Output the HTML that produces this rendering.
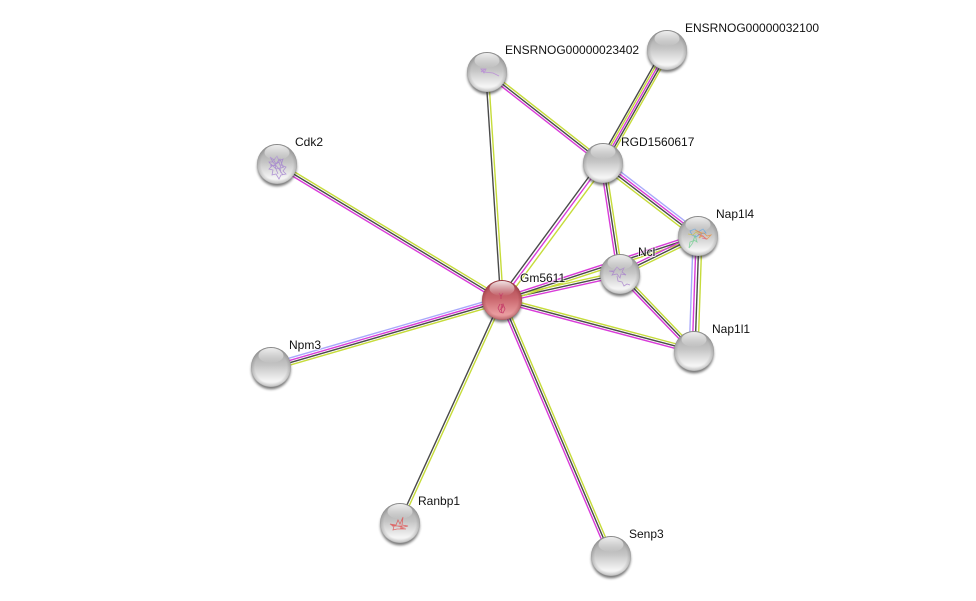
<!DOCTYPE html>
<html>
<head>
<meta charset="utf-8">
<title>Network</title>
<style>
html,body{margin:0;padding:0;background:#fff;width:976px;height:601px;overflow:hidden}
svg{display:block}
line{stroke-width:1.4;fill:none}
.k{stroke:#4a4a4a}.m{stroke:#d93bd9}.y{stroke:#c6dc3a}.b{stroke:#a9a9fb}
text{font-family:"Liberation Sans",Arial,sans-serif;font-size:12px;fill:#111;paint-order:stroke;stroke:rgba(255,255,255,.6);stroke-width:2px}
.s{fill:none;stroke-width:.8;opacity:.8}
</style>
</head>
<body>
<svg width="976" height="601" viewBox="0 0 976 601" xmlns="http://www.w3.org/2000/svg">
<defs>
<linearGradient id="gb" x1="0" y1="0" x2="0" y2="1">
<stop offset="0" stop-color="#a0a0a0"/><stop offset=".45" stop-color="#c4c4c4"/><stop offset=".85" stop-color="#f5f5f5"/><stop offset="1" stop-color="#e4e4e4"/>
</linearGradient>
<linearGradient id="rb" x1="0" y1="0" x2="0" y2="1">
<stop offset="0" stop-color="#a8474f"/><stop offset=".45" stop-color="#c9656c"/><stop offset=".85" stop-color="#e99c9f"/><stop offset="1" stop-color="#d98a8e"/>
</linearGradient>
<radialGradient id="ge" cx=".5" cy=".5" r=".5">
<stop offset="0" stop-color="#555" stop-opacity="0"/><stop offset=".8" stop-color="#555" stop-opacity="0"/><stop offset=".96" stop-color="#555" stop-opacity=".22"/><stop offset="1" stop-color="#444" stop-opacity=".42"/>
</radialGradient>
<radialGradient id="re" cx=".5" cy=".5" r=".5">
<stop offset="0" stop-color="#701820" stop-opacity="0"/><stop offset=".8" stop-color="#701820" stop-opacity="0"/><stop offset=".96" stop-color="#701820" stop-opacity=".25"/><stop offset="1" stop-color="#701820" stop-opacity=".5"/>
</radialGradient>
<linearGradient id="gl" x1="0" y1="0" x2="0" y2="1">
<stop offset="0" stop-color="#fff" stop-opacity=".85"/><stop offset="1" stop-color="#fff" stop-opacity="0"/>
</linearGradient>
<filter id="bl" x="-30%" y="-30%" width="160%" height="160%"><feGaussianBlur stdDeviation="1.3"/></filter>
<g id="sh"><circle cx="0" cy="2.6" r="19.8" fill="#2a2a2a" opacity=".62" filter="url(#bl)"/></g>
<g id="base"><circle r="20" fill="url(#gb)"/><circle r="20" fill="url(#ge)"/></g>
<g id="gloss"><ellipse cx="0" cy="-11.5" rx="12.5" ry="7.5" fill="url(#gl)"/></g>
</defs>

<!-- edges -->
<g transform="translate(277 164) rotate(31.15)"><line x2="263" y1="-2.3" y2="-2.3" class="y"/><line x2="263" class="k"/><line x2="263" y1="2.3" y2="2.3" class="m"/></g>
<g transform="translate(271 367) rotate(-16.17)"><line x2="240" y1="-3.4" y2="-3.4" class="b"/><line x2="240" y1="-1.1" y2="-1.1" class="m"/><line x2="240" y1="1.1" y2="1.1" class="k"/><line x2="240" y1="3.4" y2="3.4" class="y"/></g>
<g transform="translate(400 523) rotate(-65.42)"><line x2="245" y1="-1.2" y2="-1.2" class="k"/><line x2="245" y1="1.2" y2="1.2" class="y"/></g>
<g transform="translate(502 300) rotate(66.94)"><line x2="278" y1="2.3" y2="2.3" class="m"/><line x2="278" class="k"/><line x2="278" y1="-2.3" y2="-2.3" class="y"/></g>
<g transform="translate(502 300) rotate(14.88)"><line x2="199" y1="-2.3" y2="-2.3" class="y"/><line x2="199" class="k"/><line x2="199" y1="2.3" y2="2.3" class="m"/></g>
<g transform="translate(502 300) rotate(-12.43)"><line x2="121" y1="-2.3" y2="-2.3" class="y"/><line x2="121" class="k"/><line x2="121" y1="2.3" y2="2.3" class="m"/></g>
<g transform="translate(502 300) rotate(-18.08)"><line x2="206" y1="-2.3" y2="-2.3" class="m"/><line x2="206" class="k"/><line x2="206" y1="2.3" y2="2.3" class="y"/></g>
<g transform="translate(502 300) rotate(-53.6)"><line x2="170" y1="-3.2" y2="-3.2" class="k"/><line x2="170" y1="-.3" y2="-.3" class="m"/><line x2="170" y1="3.4" y2="3.4" class="y"/></g>
<g transform="translate(487 72) rotate(86.24)"><line x2="228" y1="1.3" y2="1.3" class="k"/><line x2="228" y1="-1.3" y2="-1.3" class="y"/></g>
<g transform="translate(487 72) rotate(38.11)"><line x2="147" y1="-2.3" y2="-2.3" class="y"/><line x2="147" class="k"/><line x2="147" y1="2.3" y2="2.3" class="m"/></g>
<g transform="translate(603 163) rotate(-60.47)"><line x2="130" y1="-4" y2="-4" class="k"/><line x2="130" y1="-2" y2="-2" class="y"/><line x2="130" class="m"/><line x2="130" y1="2" y2="2" class="k"/><line x2="130" y1="4" y2="4" class="y"/></g>
<g transform="translate(603 163) rotate(37.54)"><line x2="120" y1="-3.8" y2="-3.8" class="b"/><line x2="120" y1="-1.3" y2="-1.3" class="m"/><line x2="120" y1="1" y2="1" class="k"/><line x2="120" y1="3.6" y2="3.6" class="y"/></g>
<g transform="translate(603 163) rotate(81.3)"><line x2="112" y1="2.4" y2="2.4" class="m"/><line x2="112" class="k"/><line x2="112" y1="-2.4" y2="-2.4" class="y"/></g>
<g transform="translate(620 274) rotate(46.14)"><line x2="107" y1="-2.3" y2="-2.3" class="y"/><line x2="107" class="k"/><line x2="107" y1="2.3" y2="2.3" class="m"/></g>
<g transform="translate(698 236) rotate(91.99)"><line x2="115" y1="4.8" y2="4.8" class="b"/><line x2="115" y1="1.8" y2="1.8" class="m"/><line x2="115" y1="-1" y2="-1" class="k"/><line x2="115" y1="-4" y2="-4" class="y"/></g>
<g transform="translate(620 274) rotate(-25.98)"><line x2="87" y1="-2.4" y2="-2.4" class="m"/><line x2="87" class="k"/><line x2="87" y1="2.4" y2="2.4" class="y"/></g>

<!-- nodes -->
<use href="#sh" x="277" y="164"/><use href="#base" x="277" y="164"/>
<g transform="translate(277 164)" stroke="#a27fd0"><path class="s" d="M-7-7l4 3 3-4 2 5 4-2-2 6 5 2-3 4 3 3-5 1-2 4-3-5-4 1 1-5-4-1 3-3-3-4 4 0z M-5-3l7 8 4 6 M-3 2l6-7 3 8 M-6 0l5 5 2 5 M-4-5l3 5 3-2 2 6 3-1 M-7 2l5-1 1 4 4-1 1 5"/></g>
<use href="#gloss" x="277" y="164"/>

<use href="#sh" x="271" y="367"/><use href="#base" x="271" y="367"/><use href="#gloss" x="271" y="367"/>

<use href="#sh" x="400" y="523"/><use href="#base" x="400" y="523"/>
<g transform="translate(400 523)" stroke="#e05050"><path class="s" d="M-10 1l6 1 2-5 2 4 3-7-1 8 6 1-8 2 6 1-9 0-4 1 1-4z M-9 2l12 2 M-8 3l10 0"/></g>
<use href="#gloss" x="400" y="523"/>

<use href="#sh" x="611" y="556"/><use href="#base" x="611" y="556"/><use href="#gloss" x="611" y="556"/>

<use href="#sh" x="694" y="351"/><use href="#base" x="694" y="351"/><use href="#gloss" x="694" y="351"/>

<use href="#sh" x="603" y="163"/><use href="#base" x="603" y="163"/><use href="#gloss" x="603" y="163"/>

<use href="#sh" x="667" y="50"/><use href="#base" x="667" y="50"/><use href="#gloss" x="667" y="50"/>

<use href="#sh" x="487" y="72"/><use href="#base" x="487" y="72"/>
<g transform="translate(487 72)" stroke="#b884d8"><path class="s" d="M-6-3l3 4 2-4-5 0 3 3 9 1 6 3 M-6 0l4-3"/></g>
<use href="#gloss" x="487" y="72"/>

<use href="#sh" x="620" y="274"/><use href="#base" x="620" y="274"/>
<g transform="translate(620 274)" stroke="#a880cc"><path class="s" d="M-11-3l5 0 3-4 3 3 4-2-2 4 4 3-5-1-1 4-3-4-5 1 2-3-5-1z M-3 2l1 5 4 1 2 4 3-2 3 1"/></g>
<use href="#gloss" x="620" y="274"/>

<use href="#sh" x="698" y="236"/><use href="#base" x="698" y="236"/>
<g transform="translate(698 236)">
<path class="s" stroke="#5aa0e0" d="M-8-5l5-2 3 3 5-3 3 4-6 1-4 3-4-2z"/>
<path class="s" stroke="#e89040" d="M-3-6l5 3 4 0 3 3 4-1-4 4-5-3-3 2 3-5z"/>
<path class="s" stroke="#70d090" d="M-3 0l-2 5-3 1-1 6 3-4 2-4 3 2-2-7z"/>
<path class="s" stroke="#d0c040" d="M-10-2l5 1 3-3 5 4"/>
<path class="s" stroke="#e06080" d="M0-2l5 2 3 3-4-1"/>
</g>
<use href="#gloss" x="698" y="236"/>

<use href="#sh" x="502" y="300"/>
<circle cx="502" cy="300" r="20" fill="url(#rb)"/><circle cx="502" cy="300" r="20" fill="url(#re)"/>
<g transform="translate(502 300)" stroke="#c02c60"><path class="s" d="M-3-7l2 3 2-3 M-1-4l0 3 M-2 4l-2 4 2 4 3 1 2-4-2-5-2 4 1 5 M-1 4l2 3-3 3"/></g>
<use href="#gloss" x="502" y="300"/>

<!-- labels -->
<text x="685" y="32">ENSRNOG00000032100</text>
<text x="505" y="54">ENSRNOG00000023402</text>
<text x="621" y="146">RGD1560617</text>
<text x="295" y="146">Cdk2</text>
<text x="716" y="218">Nap1l4</text>
<text x="638" y="256">Ncl</text>
<text x="520" y="282">Gm5611</text>
<text x="712" y="333">Nap1l1</text>
<text x="289" y="349">Npm3</text>
<text x="418" y="505">Ranbp1</text>
<text x="629" y="538">Senp3</text>
</svg>
</body>
</html>
